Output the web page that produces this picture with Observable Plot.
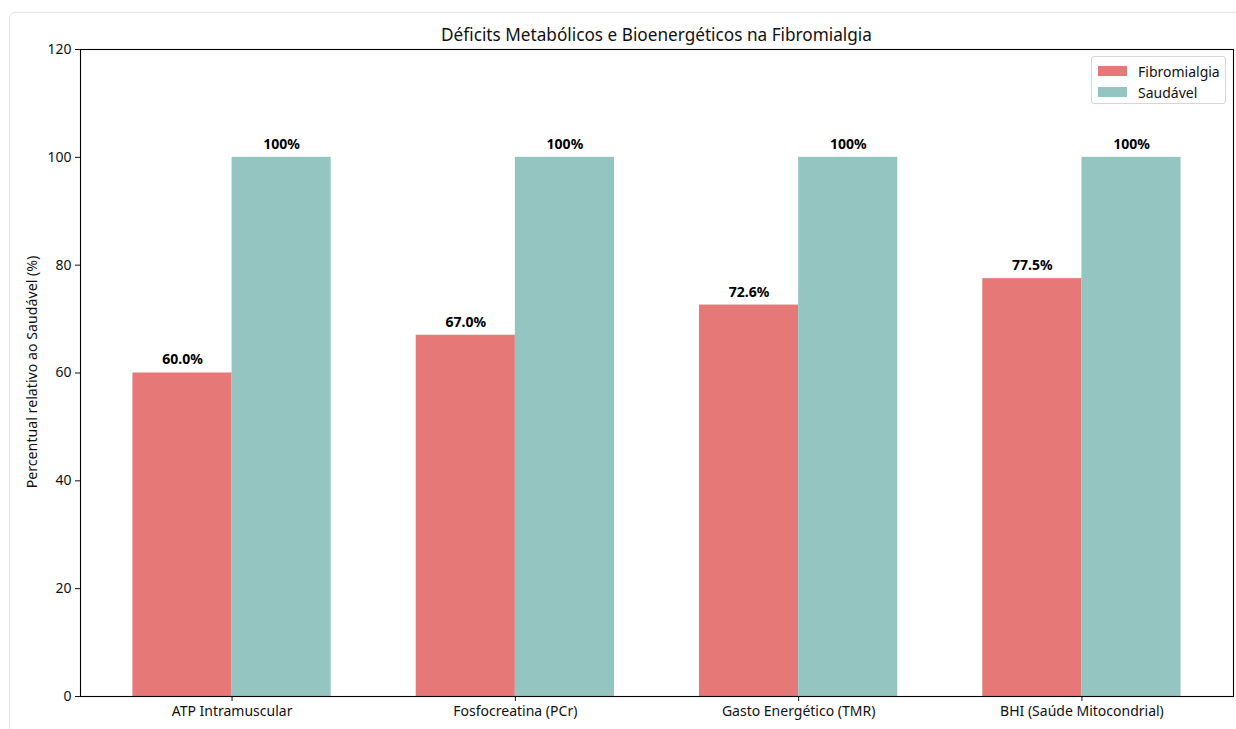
<!DOCTYPE html>
<html>
<head>
<meta charset="utf-8">
<script src="https://cdn.jsdelivr.net/npm/d3@7"></script>
<script src="https://cdn.jsdelivr.net/npm/@observablehq/plot@0.6"></script>
<style>
  html, body { margin: 0; padding: 0; background: #fff; overflow: hidden; }
  body { font-family: "Noto Sans", sans-serif; }
  #card { position: absolute; left: 9px; top: 12px; width: 1300px; height: 800px;
          border: 1px solid #e3e6ea; border-radius: 6px; box-sizing: border-box; }
  #wrap { position: absolute; left: 0; top: 0; width: 1236px; height: 729px; }
  #chart svg text { font-size: 14px; }
  #title { position: absolute; left: 80px; width: 1153px; top: 23px; text-align: center;
           font-size: 17.2px; color: #111; line-height: 24px; }
  #ylabel { position: absolute; left: 32px; top: 372px; transform: translate(-50%, -50%) rotate(-90deg);
            white-space: nowrap; font-size: 14.2px; color: #111; line-height: 18px; }
  #legend { position: absolute; left: 1091px; top: 56px; width: 135px; height: 48px;
            border: 1px solid #d6d6d6; border-radius: 3px; background: rgba(255,255,255,0.8);
            box-sizing: border-box; font-size: 14px; color: #111; }
  .li { position: absolute; left: 6px; height: 20px; display: flex; align-items: center; }
  .sw { width: 29px; height: 10px; margin-right: 11px; }
</style>
</head>
<body>
<div id="card"></div>
<div id="wrap">
  <div id="chart"></div>
  <div id="title"></div>
  <div id="ylabel"></div>
  <div id="legend"></div>
</div>
<script>
const categories = ["ATP Intramuscular", "Fosfocreatina (PCr)", "Gasto Energético (TMR)", "BHI (Saúde Mitocondrial)"];
const fibromialgia = [60.0, 67.0, 72.6, 77.5];
const saudavel = [100, 100, 100, 100];
const seriesNames = ["Fibromialgia", "Saudável"];
const seriesColors = ["#e67878", "#94c5c1"];
const yTicks = [0, 20, 40, 60, 80, 100, 120];
const titleText = "Déficits Metabólicos e Bioenergéticos na Fibromialgia";
const yLabel = "Percentual relativo ao Saudável (%)";

const barWidth = 0.35;
const rows = [];
categories.forEach((c, i) => {
  rows.push({i, series: seriesNames[0], value: fibromialgia[i], x1: i - barWidth, x2: i, label: fibromialgia[i].toFixed(1) + "%"});
  rows.push({i, series: seriesNames[1], value: saudavel[i], x1: i, x2: i + barWidth, label: saudavel[i].toFixed(0) + "%"});
});
const n = categories.length;
const span = (n - 1) + 2 * barWidth;
const pad = span * 0.05;

const chart = Plot.plot({
  width: 1236,
  height: 729,
  marginLeft: 80,
  marginRight: 3,
  marginTop: 49,
  marginBottom: 33,
  style: {fontFamily: "Noto Sans, sans-serif", fontSize: "14px", color: "#111", background: "transparent"},
  x: {type: "linear", domain: [-barWidth - pad, (n - 1) + barWidth + pad], label: null},
  y: {domain: [0, 120], label: null},
  color: {domain: seriesNames, range: seriesColors},
  marks: [
    Plot.rectY(rows, {x1: "x1", x2: "x2", y1: 0, y2: "value", fill: "series"}),
    Plot.text(rows, {x: d => (d.x1 + d.x2) / 2, y: "value", text: "label", dy: -13, fontWeight: "bold", fontSize: 14, fill: "#000"}),
    Plot.frame({stroke: "#000", strokeWidth: 1.1}),
    Plot.axisY({ticks: yTicks, tickSize: 5, tickPadding: 4, label: null, fontSize: 14}),
    Plot.axisX({ticks: d3.range(n), tickFormat: d => categories[d], tickSize: 5, tickPadding: 5, label: null, fontSize: 14})
  ]
});
document.getElementById("chart").appendChild(chart);
document.getElementById("title").textContent = titleText;
document.getElementById("ylabel").textContent = yLabel;

const legend = document.getElementById("legend");
seriesNames.forEach((s, k) => {
  const item = document.createElement("div");
  item.className = "li";
  item.style.top = (4 + k * 21) + "px";
  const sw = document.createElement("div");
  sw.className = "sw";
  sw.style.background = seriesColors[k];
  const t = document.createElement("span");
  t.textContent = s;
  item.appendChild(sw);
  item.appendChild(t);
  legend.appendChild(item);
});
</script>
</body>
</html>
